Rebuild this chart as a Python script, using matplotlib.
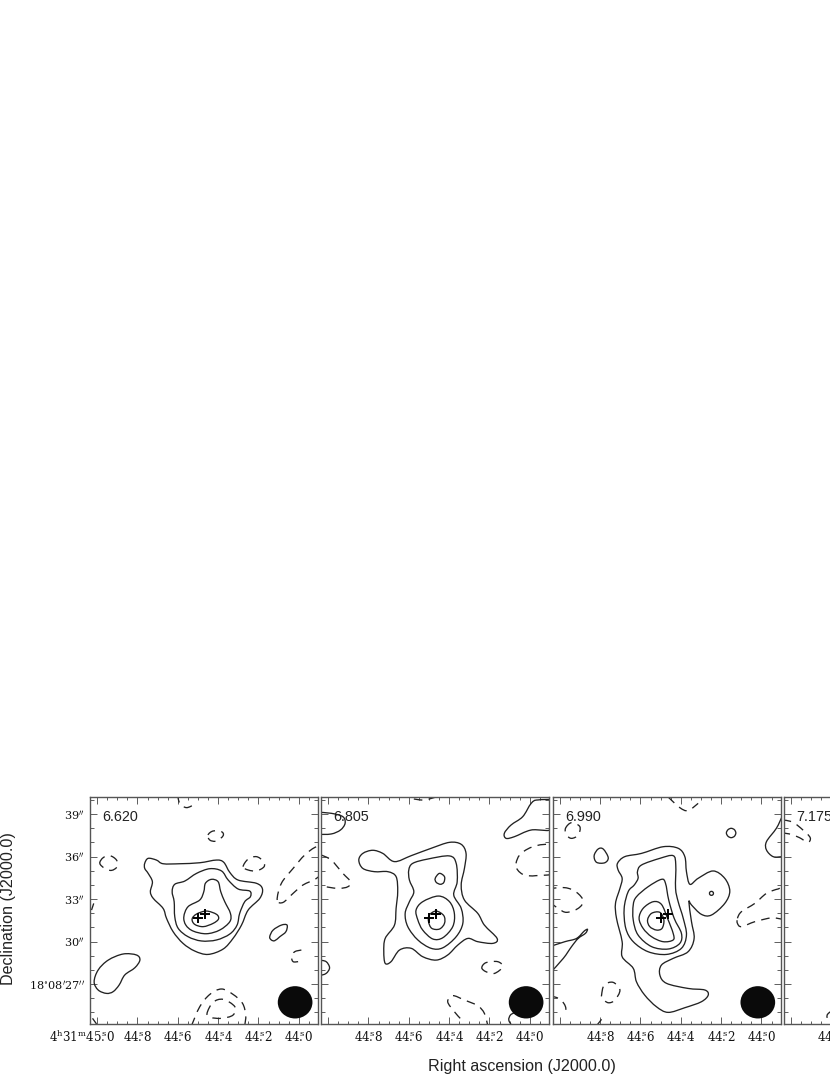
import matplotlib
matplotlib.use('Agg')
import matplotlib.pyplot as plt
from matplotlib.path import Path
from matplotlib.patches import PathPatch, Ellipse
from matplotlib.ticker import MultipleLocator
from matplotlib.transforms import ScaledTranslation

plt.rcParams['font.family'] = ['Liberation Sans', 'DejaVu Sans']
plt.rcParams['mathtext.fontset'] = 'dejavuserif'

# channel velocities (km/s)
velocities = ['6.620', '6.805', '6.990', '7.175']

# sources (RA seconds, Dec arcsec)
source_ra = [44.498, 44.463]
source_dec = [31.64, 31.92]

# beam
beam_ra, beam_dec = 44.018, 25.71
beam_w, beam_h = 0.172, 2.28

# contours: (RA seconds past 44s, Dec arcsec past 18d08m)
p1_solid = [
    ([.764, .747, .706, .673, .590, .491, .408, .372, .342, .301, .210, .180, .193, .251, .284, .326, .375, .450, .516, .574, .623, .656, .673, .722, .736, .726, .747, .764],
     [35.52, 35.87, 35.75, 35.49, 35.49, 35.56, 35.75, 35.59, 34.88, 34.34, 34.11, 33.71, 33.05, 32.22, 31.16, 30.22, 29.47, 29.09, 29.33, 29.87, 30.69, 31.64, 32.34, 33.05, 33.52, 34.22, 34.81, 35.16]),
    ([.628, .615, .565, .507, .441, .383, .350, .301, .243, .240, .268, .293, .306, .342, .408, .483, .549, .598, .615, .618],
     [33.52, 34.04, 34.27, 34.81, 35.14, 34.98, 34.34, 33.71, 33.56, 33.16, 32.81, 31.99, 31.16, 30.53, 30.11, 30.04, 30.34, 30.93, 31.75, 32.81]),
    ([.570, .549, .491, .471, .463, .433, .400, .387, .367, .339, .342, .392, .458, .524, .560],
     [31.75, 32.46, 32.93, 33.52, 34.11, 34.39, 34.22, 33.52, 32.81, 31.99, 31.40, 30.81, 30.55, 30.74, 31.16]),
    ([.529, .507, .458, .408, .398, .425, .474, .516],
     [31.59, 31.94, 32.15, 31.92, 31.59, 31.28, 31.05, 31.21]),
    ([1.015, .995, .945, .871, .805, .788, .813, .863, .891, .921, .954, .995],
     [27.16, 27.99, 28.69, 29.12, 29.05, 28.69, 28.15, 27.64, 26.93, 26.46, 26.34, 26.58]),
    ([.144, .127, .086, .058, .064, .094, .119, .136],
     [30.34, 30.81, 31.16, 31.16, 30.69, 30.34, 30.06, 30.11]),
]
p1_dashed = [
    ([.987, .970, .937, .904, .901, .929, .962],
     [35.52, 35.92, 36.06, 35.75, 35.28, 35.02, 35.16]),
    ([.450, .425, .383, .375, .408, .441],
     [37.52, 37.80, 37.75, 37.47, 37.09, 37.16]),
    ([.276, .251, .210, .177, .172, .210, .251],
     [35.28, 35.82, 35.99, 35.68, 35.28, 34.98, 35.05]),
    ([.107, .086, .028, -.030, -.088, -.129, -.129, -.088, -.021, .028, .078],
     [32.93, 34.11, 35.16, 36.11, 36.69, 36.58, 35.16, 34.46, 33.99, 33.40, 32.76]),
    ([.455, .425, .375, .317, .326, .383, .438],
     [24.93, 25.71, 25.92, 25.40, 24.81, 24.58, 24.65]),
]
p1_dashed_open = [
    ([.602, .590, .557, .516], [40.4, 39.75, 39.45, 39.68]),
    ([-.013, .020, .036, .028, .003], [29.40, 29.28, 28.93, 28.58, 28.58]),
    ([.532, .491, .441, .383, .326, .279, .263, .268],
     [24.06, 25.40, 26.27, 26.65, 26.27, 25.64, 24.81, 24.06]),
    ([1.023, 1.003], [24.58, 24.18]),
    ([1.028, 1.017], [32.22, 32.69]),
]
p1_solid_open = []

p2_solid = [
    ([.848, .828, .779, .729, .671, .588, .489, .398, .340, .316, .324, .340, .324, .258, .225, .162, .183, .258, .307, .357, .407, .464, .531, .588, .646, .688, .717, .724, .717, .671, .663, .655, .663, .704, .770, .828],
     [35.75, 36.22, 36.44, 36.22, 35.64, 36.06, 36.58, 37.00, 36.86, 36.22, 35.16, 33.99, 32.93, 31.99, 31.16, 30.22, 29.87, 29.99, 30.22, 29.75, 29.05, 28.69, 28.93, 29.52, 29.40, 28.58, 28.46, 29.28, 30.22, 31.16, 32.34, 33.52, 34.58, 34.93, 34.93, 35.16]),
    ([.600, .580, .506, .398, .365, .360, .377, .340, .332, .365, .431, .489, .555, .605, .618, .597, .575, .597],
     [35.05, 35.52, 35.82, 36.04, 35.52, 34.22, 33.28, 32.34, 31.28, 30.34, 29.56, 29.52, 30.11, 31.05, 31.99, 32.81, 33.52, 34.34]),
    ([.564, .531, .453, .398, .374, .382, .431, .481, .531, .555],
     [32.22, 32.81, 33.21, 32.81, 31.99, 31.05, 30.27, 30.18, 30.81, 31.52]),
    ([.502, .498, .464, .426, .423, .448, .486],
     [31.40, 31.87, 32.15, 31.82, 31.28, 30.88, 30.93]),
    ([.469, .448, .423, .426, .443, .464],
     [34.46, 34.81, 34.58, 34.18, 34.04, 34.18]),
    ([.126, .093, .035, -.007, -.040, -.122, -.122, -.007, .076, .117],
     [37.64, 38.22, 38.81, 39.75, 39.99, 39.82, 37.99, 37.87, 37.40, 37.28]),
]
p2_solid_open = [
    ([1.051, .985, .927, .916, .939, .985, 1.051],
     [39.12, 39.05, 38.81, 38.34, 37.87, 37.59, 37.56]),
    ([1.043, 1.010, .993, 1.010, 1.043], [28.69, 28.58, 28.15, 27.75, 27.59]),
    ([.076, .096, .104, .089], [24.98, 24.81, 24.46, 24.06]),
]
p2_dashed = [
    ([.068, .043, -.031, -.114, -.122, -.031, .026, .060],
     [35.52, 36.22, 36.76, 36.69, 34.93, 34.65, 34.69, 35.05]),
    ([.238, .217, .159, .134, .175, .217],
     [28.15, 28.51, 28.58, 28.22, 27.75, 27.87]),
]
p2_dashed_open = [
    ([.575, .522, .453], [40.06, 39.99, 40.25]),
    ([1.035, .985, .927, .889, .902, .952, 1.035],
     [36.11, 35.75, 34.81, 34.22, 33.87, 33.75, 33.92]),
    ([.345, .374, .407, .382, .324, .258, .225, .208],
     [24.58, 25.05, 25.75, 26.18, 25.87, 25.47, 24.93, 24.06]),
]

p3_solid = [
    ([.714, .678, .595, .488, .413, .380, .372, .355, .314, .240, .182, .157, .182, .248, .298, .347, .360, .347, .334, .364, .438, .496, .504, .471, .364, .281, .264, .298, .380, .463, .521, .579, .620, .636, .691, .691, .719, .724, .702, .691, .711],
     [35.52, 35.99, 36.22, 36.69, 36.58, 35.99, 34.93, 34.04, 34.46, 34.98, 34.46, 33.56, 32.69, 31.87, 31.92, 32.58, 32.81, 31.40, 30.22, 29.28, 28.81, 28.34, 27.64, 27.05, 26.69, 26.58, 26.22, 25.75, 25.33, 25.00, 25.40, 26.22, 27.16, 28.11, 28.93, 29.99, 31.64, 32.69, 33.75, 34.46, 35.05]),
    ([.615, .595, .504, .438, .425, .426, .413, .388, .372, .397, .471, .562, .636, .673, .681, .661, .631, .612],
     [34.93, 35.40, 35.87, 36.06, 35.40, 33.75, 32.81, 31.64, 30.46, 29.52, 29.09, 29.28, 29.99, 30.93, 32.34, 33.52, 33.99, 34.46]),
    ([.636, .620, .562, .496, .476, .460, .433, .397, .405, .463, .545, .612, .636],
     [32.58, 33.16, 33.87, 34.39, 34.11, 32.93, 31.64, 30.58, 29.87, 29.47, 29.64, 30.46, 31.52]),
    ([.607, .587, .537, .496, .466, .438, .438, .488, .545, .587],
     [31.64, 32.34, 32.81, 32.62, 31.64, 30.58, 30.11, 29.99, 30.34, 30.93]),
    ([.565, .545, .504, .484, .493, .521, .554],
     [31.52, 31.99, 32.06, 31.52, 30.93, 30.81, 31.05]),
    ([.258, .255, .248, .241, .238, .241, .248, .255],
     [33.40, 33.50, 33.54, 33.50, 33.40, 33.30, 33.26, 33.30]),
    ([.174, .166, .150, .134, .127, .134, .150, .166],
     [37.66, 37.89, 37.99, 37.89, 37.66, 37.43, 37.33, 37.43]),
    ([.830, .810, .785, .760, .777, .818], [36.06, 36.53, 36.53, 35.92, 35.56, 35.59]),
]
p3_solid_open = [
    ([-.102, -.074, -.025, -.025, -.058, -.102], [38.81, 37.99, 37.05, 36.46, 35.99, 35.99]),
    ([1.050, .975, .917, .879, .863, .873, .909, .942, .983, 1.050],
     [29.64, 29.99, 30.22, 30.74, 30.86, 30.58, 30.22, 29.64, 28.81, 27.75]),
    ([.818, .793], [24.06, 24.51]),
]
p3_dashed = [
    ([.972, .942, .901, .909, .942, .967], [37.99, 38.39, 38.11, 37.52, 37.28, 37.52]),
    ([1.058, .975, .917, .884, .909, .967, 1.008, 1.058],
     [33.64, 33.80, 33.47, 32.86, 32.34, 32.06, 32.34, 32.93]),
    ([.119, .099, .033, -.025, -.083, -.116, -.116, -.050, .033, .099, .119],
     [31.64, 32.11, 32.69, 33.40, 33.71, 33.71, 31.75, 31.68, 31.40, 31.05, 31.28]),
    ([.793, .780, .736, .702, .727, .760, .790],
     [26.22, 26.93, 27.12, 26.58, 25.87, 25.68, 25.99]),
]
p3_dashed_open = [
    ([.463, .405, .364, .314], [40.20, 39.45, 39.24, 39.75]),
    ([1.050, 1.000, .972, .972], [26.18, 25.94, 25.40, 24.81]),
]

p4_solid = []
p4_solid_open = []
p4_dashed = [
    ([1.040, .990, .940, .904, .916, .957, .998, 1.040],
     [38.51, 38.41, 37.87, 37.33, 37.00, 37.33, 37.56, 37.75]),
]
p4_dashed_open = [
    ([.800, .820, .817], [25.09, 24.81, 24.39]),
]

ra_ticks = [45.0, 44.8, 44.6, 44.4, 44.2, 44.0]
dec_ticks = [27, 30, 33, 36, 39]
ra_labels = [r'$4^{\rm h}31^{\rm m}45^{\rm s}\!\!\!.0$', r'$44^{\rm s}\!\!\!.8$', r'$44^{\rm s}\!\!\!.6$',
             r'$44^{\rm s}\!\!\!.4$', r'$44^{\rm s}\!\!\!.2$', r'$44^{\rm s}\!\!\!.0$']
dec_labels = [r"$18^{\circ}08^{\prime}27^{\prime\prime}$", r"$30^{\prime\prime}$", r"$33^{\prime\prime}$",
              r"$36^{\prime\prime}$", r"$39^{\prime\prime}$"]

W, H = 830, 1075
panel_left = [90.3, 321.3, 553.0, 784.0]
panel_w, panel_h = 228.0, 227.0
panel_top = 797.0


def smooth_path(ra, dec, closed):
    # smooth curve through the points
    pts = [(44.0 + r, d) for r, d in zip(ra, dec)]
    n = len(pts)
    verts, codes = [pts[0]], [Path.MOVETO]
    for i in range(n if closed else n - 1):
        if closed:
            p0, p1, p2, p3 = pts[i - 1], pts[i], pts[(i + 1) % n], pts[(i + 2) % n]
        else:
            p0, p1, p2, p3 = pts[max(i - 1, 0)], pts[i], pts[i + 1], pts[min(i + 2, n - 1)]
        c1 = (p1[0] + (p2[0] - p0[0]) / 6, p1[1] + (p2[1] - p0[1]) / 6)
        c2 = (p2[0] - (p3[0] - p1[0]) / 6, p2[1] - (p3[1] - p1[1]) / 6)
        verts += [c1, c2, p2]
        codes += [Path.CURVE4] * 3
    return Path(verts, codes)


def draw_contours(ax, contours, closed, dashed):
    for ra, dec in contours:
        ls = (0, (6.5, 4.8)) if dashed else '-'
        ax.add_patch(PathPatch(smooth_path(ra, dec, closed), fc='none', ec='#222222',
                               lw=0.95, ls=ls, zorder=2))


fig = plt.figure(figsize=(W / 100, H / 100), dpi=100, facecolor='white')

panels = [
    (p1_solid, p1_solid_open, p1_dashed, p1_dashed_open),
    (p2_solid, p2_solid_open, p2_dashed, p2_dashed_open),
    (p3_solid, p3_solid_open, p3_dashed, p3_dashed_open),
    (p4_solid, p4_solid_open, p4_dashed, p4_dashed_open),
]

for i, (solid, solid_open, dashed, dashed_open) in enumerate(panels):
    ax = fig.add_axes([panel_left[i] / W, 1 - (panel_top + panel_h) / H, panel_w / W, panel_h / H])
    ax.set_xlim(45.034, 43.903)
    ax.set_ylim(24.18, 40.2)

    draw_contours(ax, solid, True, False)
    draw_contours(ax, solid_open, False, False)
    draw_contours(ax, dashed, True, True)
    draw_contours(ax, dashed_open, False, True)

    ax.add_patch(Ellipse((beam_ra, beam_dec), beam_w, beam_h, fc='#0a0a0a', ec='none', zorder=3))
    ax.plot(source_ra, source_dec, '+', color='black', ms=7.5, mew=1.4, zorder=4)

    ax.text(0.054, 0.913, velocities[i], transform=ax.transAxes, fontsize=10.4, va='center',
            color='#222222', zorder=5)

    ax.set_xticks(ra_ticks)
    ax.set_yticks(dec_ticks)
    ax.xaxis.set_minor_locator(MultipleLocator(0.05))
    ax.yaxis.set_minor_locator(MultipleLocator(1))
    if i == 0:
        ax.set_xticklabels(ra_labels, fontsize=8.6)
        ax.set_yticklabels(dec_labels, fontsize=8.1)
    else:
        ax.set_xticklabels([''] + ra_labels[1:], fontsize=8.6)
        ax.set_yticklabels([])
    ax.tick_params(which='both', direction='in', top=True, right=True, width=0.6,
                   color='#444444', labelcolor='#111111')
    ax.tick_params(which='major', length=4.8, pad=4)
    ax.tick_params(axis='x', which='minor', length=2.4)
    ax.tick_params(axis='y', which='minor', length=3.1)
    if i == 0:
        # the long first label hangs to the left of its tick
        first = ax.get_xticklabels()[0]
        first.set_ha('right')
        first.set_transform(first.get_transform() + ScaledTranslation(18 / 100, 0, fig.dpi_scale_trans))
    for spine in ax.spines.values():
        spine.set_linewidth(1.0)
        spine.set_color('#555555')

fig.text(428 / W, 1 - 1066 / H, 'Right ascension (J2000.0)', fontsize=11.6, ha='left', va='center',
         color='#222222')
fig.text(9 / W, 1 - 909 / H, 'Declination (J2000.0)', fontsize=11.6, rotation=90, ha='center',
         va='center', color='#222222')

fig.savefig('out.png', dpi=100)
